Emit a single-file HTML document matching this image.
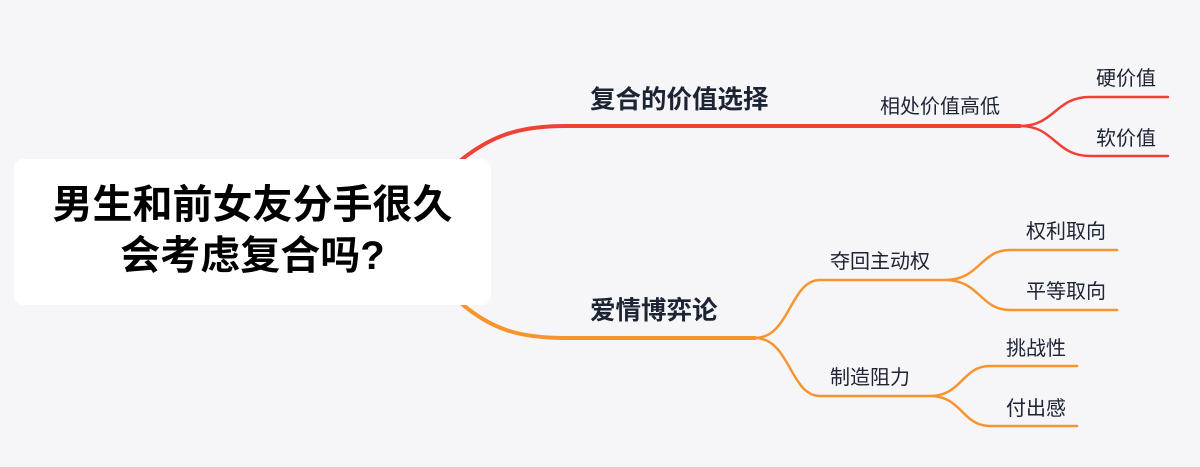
<!DOCTYPE html>
<html><head><meta charset="utf-8"><style>
body{margin:0;width:1200px;height:467px;background:#f6f6f9;overflow:hidden;position:relative;font-family:"Liberation Sans","Noto Sans CJK SC",sans-serif}
.box{position:absolute;left:14px;top:159px;width:477px;height:146px;background:#fff;border-radius:10px}
.t{position:absolute;white-space:nowrap;color:#1c2333}
.s{font-size:20px}
</style></head><body>
<svg width="1200" height="467" style="position:absolute;left:0;top:0">
<g fill="none" stroke-width="2.5" stroke-linecap="round">
<path d="M455 165 C490 135 520 126 565 126 L1020 126" stroke="#ef4136" stroke-width="4"/>
<path d="M1020 126 C1055 126 1055 97 1090 97 L1168 97 M1020 126 C1055 126 1055 156 1090 156 L1168 156" stroke="#ef4136"/>
<path d="M455 298 C490 330 520 338 565 338 L755 338" stroke="#f7942e" stroke-width="4"/>
<path d="M755 338 C790 338 790 280 820 280 L945 280 M755 338 C790 338 790 396 820 396 L930 396" stroke="#f7942e"/>
<path d="M945 280 C980 280 980 250 1010 250 L1117 250 M945 280 C980 280 980 310 1010 310 L1117 310" stroke="#f7942e"/>
<path d="M930 396 C962 396 962 366 990 366 L1077 366 M930 396 C962 396 962 426 990 426 L1077 426" stroke="#f7942e"/>
</g></svg>
<div class="box"></div>
<div class="t" style="left:14px;width:477px;top:180px;text-align:center;font-size:40px;font-weight:bold;line-height:51px;color:#000">男生和前女友分手很久<br>会考虑复合吗?</div>
<div class="t" style="left:590px;top:79px;font-size:25.5px;font-weight:bold">复合的价值选择</div>
<div class="t" style="left:590px;top:290px;font-size:25.5px;font-weight:bold">爱情博弈论</div>
<div class="t s" style="left:880px;top:90px">相处价值高低</div>
<div class="t s" style="left:1096px;top:62px">硬价值</div>
<div class="t s" style="left:1096px;top:122px">软价值</div>
<div class="t s" style="left:830px;top:245px">夺回主动权</div>
<div class="t s" style="left:830px;top:361px">制造阻力</div>
<div class="t s" style="left:1026px;top:215px">权利取向</div>
<div class="t s" style="left:1026px;top:275px">平等取向</div>
<div class="t s" style="left:1006px;top:332px">挑战性</div>
<div class="t s" style="left:1006px;top:392px">付出感</div>
</body></html>
